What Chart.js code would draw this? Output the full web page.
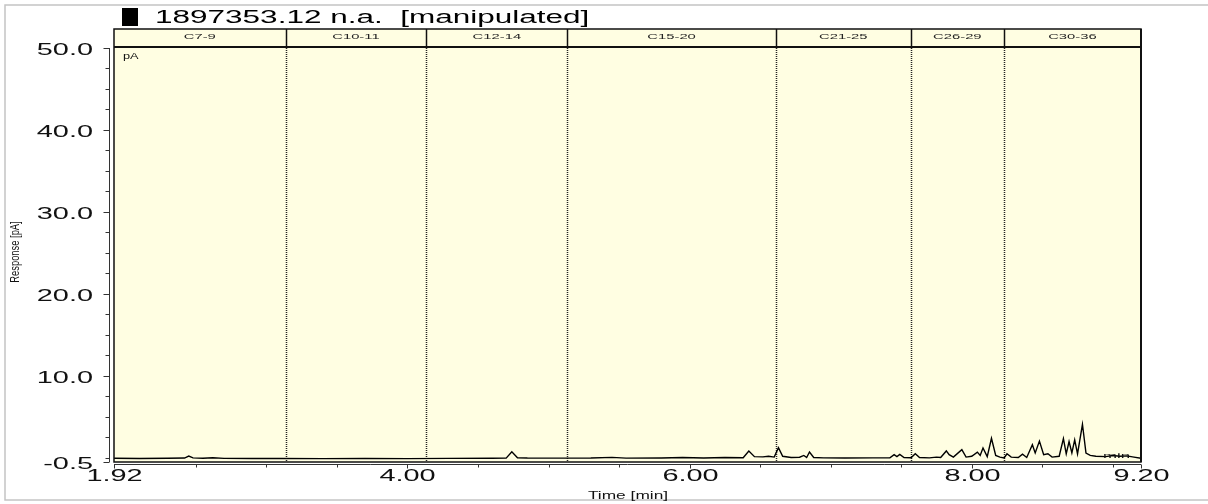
<!DOCTYPE html>
<html>
<head>
<meta charset="utf-8">
<script src="https://cdn.jsdelivr.net/npm/chart.js@4.4.1/dist/chart.umd.min.js"></script>
<style>
  html, body { margin: 0; padding: 0; background: #fff; }
  #wrap { width: 1208px; height: 504px; position: relative; }
</style>
</head>
<body>
<div id="wrap"><canvas id="chrom" width="1208" height="504"></canvas></div>
<script>
// --- data ---
const times = [
  1.92, 2.10, 2.30, 2.42, 2.45, 2.48, 2.55, 2.62, 2.70, 2.90, 3.10, 3.40, 3.70, 4.00, 4.30,
  4.60, 4.70, 4.74, 4.78, 4.85, 5.00, 5.30, 5.45, 5.55, 5.80, 5.95, 6.10, 6.25, 6.38, 6.42,
  6.46, 6.52, 6.56, 6.60, 6.63, 6.66, 6.72, 6.78, 6.81, 6.83, 6.85, 6.88, 6.95, 7.10, 7.30,
  7.42, 7.45, 7.47, 7.49, 7.52, 7.57, 7.60, 7.63, 7.70, 7.75, 7.78, 7.82, 7.84, 7.87, 7.93,
  7.96, 8.00, 8.04, 8.06, 8.08, 8.11, 8.14, 8.17, 8.20, 8.23, 8.25, 8.28, 8.33, 8.36, 8.39,
  8.43, 8.45, 8.48, 8.51, 8.54, 8.57, 8.62, 8.65, 8.67, 8.69, 8.71, 8.73, 8.75, 8.785, 8.81,
  8.84, 8.88, 8.95, 9.00, 9.05, 9.10, 9.15, 9.20
];
const response = [
  -0.05, -0.08, -0.05, -0.02, 0.22, 0.00, -0.05, 0.02, -0.06, -0.08, -0.07, -0.09, -0.08, -0.09, -0.06,
  -0.04, -0.03, 0.75, 0.02, -0.02, -0.03, -0.02, 0.06, -0.03, -0.01, 0.05, -0.02, 0.04, 0.02, 0.85,
  0.15, 0.12, 0.20, 0.10, 1.25, 0.20, 0.05, 0.08, 0.30, 0.05, 0.72, 0.05, 0.00, -0.02, 0.00,
  0.00, 0.40, 0.15, 0.42, 0.05, 0.02, 0.50, 0.05, 0.00, 0.10, 0.05, 0.85, 0.40, 0.10, 1.00,
  0.10, 0.20, 0.70, 0.30, 1.20, 0.15, 2.40, 0.30, 0.10, 0.00, 0.50, 0.10, 0.05, 0.45, 0.05,
  1.60, 0.60, 2.05, 0.40, 0.50, 0.10, 0.20, 2.35, 0.50, 2.00, 0.60, 2.20, 0.50, 4.10, 0.60,
  0.30, 0.20, 0.15, 0.30, 0.20, 0.25, 0.10, -0.05
];

// carbon-range windows (boundary times) and their names
const windowBounds = [3.136, 4.134, 5.134, 6.611, 7.568, 8.228];
const windowNames = ['C7-9', 'C10-11', 'C12-14', 'C15-20', 'C21-25', 'C26-29', 'C30-36'];

// axis ticks
const xMajorTicks = [1.92, 4.00, 6.00, 8.00, 9.20];
const xTickLabels = ['1.92', '4.00', '6.00', '8.00', '9.20'];
const xMinorTicks = [2.5, 3.0, 3.5, 4.5, 5.0, 5.5, 6.5, 7.0, 7.5, 8.5, 9.0];
const yMajorTicks = [-0.5, 10, 20, 30, 40, 50];
const yTickLabels = ['-0.5', '10.0', '20.0', '30.0', '40.0', '50.0'];
const yMinorTicks = [0, 2.5, 5, 7.5, 12.5, 15, 17.5, 22.5, 25, 27.5, 32.5, 35, 37.5, 42.5, 45, 47.5];

const titleText = '1897353.12 n.a.  [manipulated]';

const PLOT_FILL = '#fffee2';
const HEADER_TOP = 29;
const FONT = '"Liberation Sans", Arial, sans-serif';

// text squeezed / stretched horizontally like the original export
function drawText(ctx, text, x, y, size, sx, align, baseline) {
    ctx.save();
    ctx.translate(x, y);
    ctx.scale(sx, 1);
    ctx.font = size + 'px ' + FONT;
    ctx.textAlign = align || 'left';
    ctx.textBaseline = baseline || 'alphabetic';
    ctx.fillText(text, 0, 0);
    ctx.restore();
}

const frame = {
    id: 'chromFrame',
    beforeDraw(chart) {
        const { ctx, chartArea: a } = chart;
        ctx.save();
        ctx.fillStyle = '#fff';
        ctx.fillRect(0, 0, chart.width, chart.height);

        // outer grey border
        ctx.strokeStyle = '#c4c4c4';
        ctx.lineWidth = 1.5;
        ctx.strokeRect(5, 5, chart.width - 4, 495);

        // plot + header fill
        ctx.fillStyle = PLOT_FILL;
        ctx.fillRect(a.left, HEADER_TOP, a.right - a.left, a.bottom - HEADER_TOP);

        // dotted window boundaries inside the plot
        const xs = chart.scales.x;
        ctx.strokeStyle = '#222';
        ctx.lineWidth = 1.5;
        ctx.setLineDash([1, 1]);
        windowBounds.forEach(t => {
            const px = Math.round(xs.getPixelForValue(t)) + 0.5;
            ctx.beginPath();
            ctx.moveTo(px, a.top);
            ctx.lineTo(px, a.bottom);
            ctx.stroke();
        });
        ctx.setLineDash([]);
        ctx.restore();
    },
    afterDraw(chart) {
        const { ctx, chartArea: a } = chart;
        const xs = chart.scales.x;
        const ys = chart.scales.y;
        ctx.save();
        ctx.fillStyle = '#111';
        ctx.strokeStyle = '#111';

        // header band
        const hb = [a.left].concat(windowBounds.map(t => xs.getPixelForValue(t)), [a.right]);
        ctx.lineWidth = 1.5;
        windowBounds.forEach(t => {
            const px = Math.round(xs.getPixelForValue(t)) + 0.5;
            ctx.beginPath();
            ctx.moveTo(px, HEADER_TOP);
            ctx.lineTo(px, a.top - 1);
            ctx.stroke();
        });
        ctx.lineWidth = 2;
        ctx.beginPath();
        ctx.moveTo(a.left, a.top - 1);
        ctx.lineTo(a.right, a.top - 1);
        ctx.stroke();
        ctx.fillStyle = '#222';
        windowNames.forEach((name, i) => {
            drawText(ctx, name, (hb[i] + hb[i + 1]) / 2, 39, 8, 1.85, 'center');
        });

        // plot frame
        ctx.lineWidth = 1.5;
        ctx.strokeRect(a.left, HEADER_TOP, a.right - a.left, a.bottom - HEADER_TOP);
        ctx.lineWidth = 2;
        ctx.beginPath();
        ctx.moveTo(a.right, HEADER_TOP);
        ctx.lineTo(a.right, a.bottom);
        ctx.stroke();

        // y axis, set a little left of the plot
        ctx.fillStyle = '#111';
        ctx.strokeStyle = '#333';
        ctx.lineWidth = 1;
        const yAx = 109.5;
        ctx.beginPath();
        ctx.moveTo(yAx, ys.getPixelForValue(50));
        ctx.lineTo(yAx, ys.getPixelForValue(-0.5));
        ctx.stroke();
        yMajorTicks.forEach((v, i) => {
            const py = Math.round(ys.getPixelForValue(v)) + 0.5;
            ctx.beginPath();
            ctx.moveTo(yAx - 6, py);
            ctx.lineTo(yAx, py);
            ctx.stroke();
            drawText(ctx, yTickLabels[i], 93, py + 6, 17, 1.7, 'right');
        });
        yMinorTicks.forEach(v => {
            const py = Math.round(ys.getPixelForValue(v)) + 0.5;
            ctx.beginPath();
            ctx.moveTo(yAx - 4, py);
            ctx.lineTo(yAx, py);
            ctx.stroke();
        });

        // x axis, just under the plot
        const xAx = 464.5;
        ctx.beginPath();
        ctx.moveTo(a.left, xAx);
        ctx.lineTo(a.right, xAx);
        ctx.stroke();
        xMajorTicks.forEach((v, i) => {
            const px = Math.round(xs.getPixelForValue(v)) + 0.5;
            ctx.beginPath();
            ctx.moveTo(px, xAx);
            ctx.lineTo(px, xAx + 4);
            ctx.stroke();
            drawText(ctx, xTickLabels[i], px, 481, 17, 1.7, 'center');
        });
        xMinorTicks.forEach(v => {
            const px = Math.round(xs.getPixelForValue(v)) + 0.5;
            ctx.beginPath();
            ctx.moveTo(px, xAx);
            ctx.lineTo(px, xAx + 3);
            ctx.stroke();
        });

        // axis titles and units
        drawText(ctx, 'Time [min]', 628, 499, 10.5, 1.65, 'center');
        ctx.save();
        ctx.translate(15, 252);
        ctx.rotate(-Math.PI / 2);
        drawText(ctx, 'Response [pA]', 0, 0, 13, 0.72, 'center', 'middle');
        ctx.restore();
        drawText(ctx, 'pA', 123, 59, 8.5, 1.5, 'left');
        drawText(ctx, 'min', 1103, 457.5, 8, 2.1, 'left');

        // title with the black marker square
        ctx.fillStyle = '#000';
        ctx.fillRect(122, 8, 16, 18);
        drawText(ctx, titleText, 155, 22.5, 17.5, 1.8, 'left');
        ctx.restore();
    }
};

new Chart(document.getElementById('chrom'), {
    type: 'scatter',
    data: {
        datasets: [{
            label: titleText,
            data: times.map((t, i) => ({ x: t, y: response[i] })),
            showLine: true,
            borderColor: '#000',
            borderWidth: 1.4,
            pointRadius: 0,
            tension: 0
        }]
    },
    options: {
        responsive: false,
        animation: false,
        layout: { padding: { left: 114, right: 67, top: 48, bottom: 42 } },
        scales: {
            x: { type: 'linear', min: 1.92, max: 9.20, display: false },
            y: { type: 'linear', min: -0.5, max: 50, display: false }
        },
        plugins: {
            legend: { display: false },
            tooltip: { enabled: false }
        }
    },
    plugins: [frame]
});
</script>
</body>
</html>
